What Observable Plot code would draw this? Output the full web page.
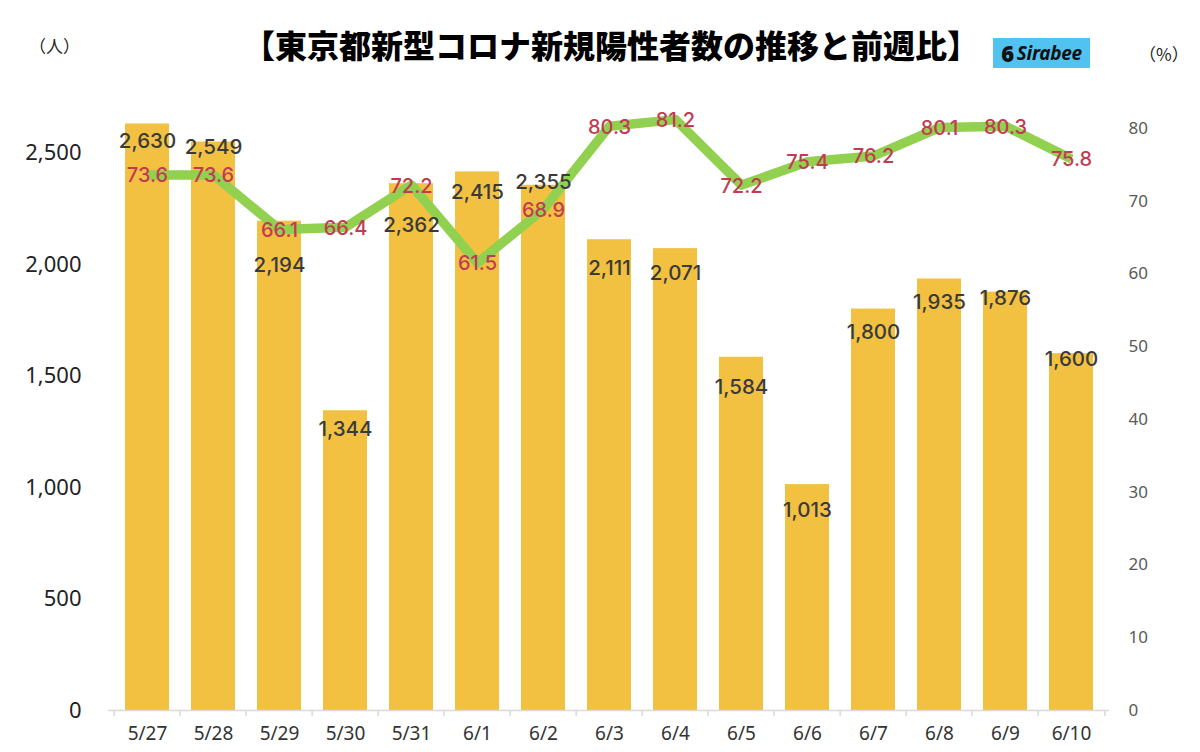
<!DOCTYPE html>
<html><head><meta charset="utf-8">
<script src="https://cdn.jsdelivr.net/npm/d3@7"></script>
<script src="https://cdn.jsdelivr.net/npm/@observablehq/plot@0.6"></script>
<style>
body{margin:0;background:#fff;}
#wrap{position:relative;width:1200px;height:752px;overflow:hidden;font-family:"Noto Sans","Noto Sans CJK JP",sans-serif;}
#header{position:relative;width:1200px;height:80px;}
#title{position:absolute;left:11px;width:1200px;top:27px;line-height:34px;text-align:center;font-weight:900;font-size:32px;font-family:"Noto Sans CJK JP",sans-serif;color:#000;}
#unitL{position:absolute;left:29px;top:35px;font-size:17px;line-height:22px;color:#222;font-family:"Noto Sans CJK JP",sans-serif;}
#unitR{position:absolute;left:1139px;top:43px;font-size:17px;line-height:22px;color:#222;font-family:"Noto Sans CJK JP",sans-serif;}
#logo{position:absolute;left:993px;top:38px;width:97px;height:30px;background:#52C3F1;display:flex;align-items:center;justify-content:center;font-family:"Noto Sans",sans-serif;font-weight:bold;font-style:italic;font-size:19px;color:#111;letter-spacing:-0.3px;}
#logo .mk{font-size:22px;margin-right:3px;font-style:normal;font-weight:900;}
#chart svg{display:block;}
</style>
</head><body>
<div id="wrap">
  <div id="header">
    <div id="title">【東京都新型コロナ新規陽性者数の推移と前週比】</div>
    <div id="unitL">（人）</div>
    <div id="unitR">（%）</div>
    <div id="logo"><span class="mk">6</span>Sirabee</div>
  </div>
  <div id="chart"></div>
</div>
<script>
// ---- data ----
const dates = ["5/27","5/28","5/29","5/30","5/31","6/1","6/2","6/3","6/4","6/5","6/6","6/7","6/8","6/9","6/10"];
const cases = [2630,2549,2194,1344,2362,2415,2355,2111,2071,1584,1013,1800,1935,1876,1600];
const weekRatio = [73.6,73.6,66.1,66.4,72.2,61.5,68.9,80.3,81.2,72.2,75.4,76.2,80.1,80.3,75.8];
const leftTicks = [0,500,1000,1500,2000,2500];
const rightTicks = [0,10,20,30,40,50,60,70,80];

// ---- layout ----
const W = 1200, H = 672;
const mL = 108, mR = 91, mT = 10, mB = 42;
const yMax = 2780, pctMax = 85.2;
const ratio = yMax / pctMax;
const plotH = H - mT - mB;
const pxPerUnit = plotH / yMax;
const step = (W - mL - mR) / dates.length;
// label nudges below bar top (px), as placed in original
const labelNudgePx = [17,5,44,19,42,21,-3,29,25,30,26,23,23,6,6];

const rows = dates.map((d,i)=>({date:d, cases:cases[i], pct:weekRatio[i], pctY:weekRatio[i]*ratio, nudge:labelNudgePx[i]}));
const fmt = d3.format(",");
const labelFont = 'Inter, "DejaVu Sans", sans-serif';

const plot = Plot.plot({
  width: W, height: H,
  marginLeft: mL, marginRight: mR, marginTop: mT, marginBottom: mB,
  style: {fontFamily: '"Noto Sans", sans-serif', background: "#fff"},
  x: {type: "band", domain: dates, paddingInner: 0.34, paddingOuter: 0.17, axis: null},
  y: {domain: [0, yMax], axis: null},
  marks: [
    Plot.barY(rows, {x: "date", y: "cases", fill: "#F2C142"}),
    Plot.ruleY([0], {stroke: "#D9D9D9", strokeWidth: 1.5}),
    Plot.ruleX(dates, {x: d=>d, dx: -step/2, y1: 0, y2: 0, insetBottom: -6, stroke: "#D9D9D9", strokeWidth: 1.5}),
    Plot.ruleX([dates[dates.length-1]], {x: d=>d, dx: step/2, y1: 0, y2: 0, insetBottom: -6, stroke: "#D9D9D9", strokeWidth: 1.5}),
    Plot.axisX({tickSize: 0, tickPadding: 16, fontSize: 19, color: "#333", label: null}),
    Plot.axisY(leftTicks, {anchor: "left", tickSize: 0, tickPadding: 27, fontSize: 22, color: "#222", tickFormat: fmt, label: null}),
    Plot.axisY(rightTicks.map(p=>p*ratio), {anchor: "right", tickSize: 0, tickPadding: 19, fontSize: 17, color: "#595959", tickFormat: v=>String(Math.round(v/ratio)), label: null}),
    Plot.line(rows, {x: "date", y: "pctY", stroke: "#92D050", strokeWidth: 9.5, strokeLinejoin: "round", strokeLinecap: "butt"}),
    Plot.text(rows, {x: "date", y: d=>d.cases - d.nudge/pxPerUnit, text: d=>fmt(d.cases), fontSize: 20.5, fontWeight: 500, fontFamily: labelFont, fill: "#3A3A3A"}),
    Plot.text(rows, {x: "date", y: "pctY", dy: 1, text: d=>d.pct.toFixed(1), fontSize: 20, fontWeight: 500, fontFamily: labelFont, fill: "#C23B52"})
  ]
});
document.getElementById("chart").appendChild(plot);
</script>
</body></html>
